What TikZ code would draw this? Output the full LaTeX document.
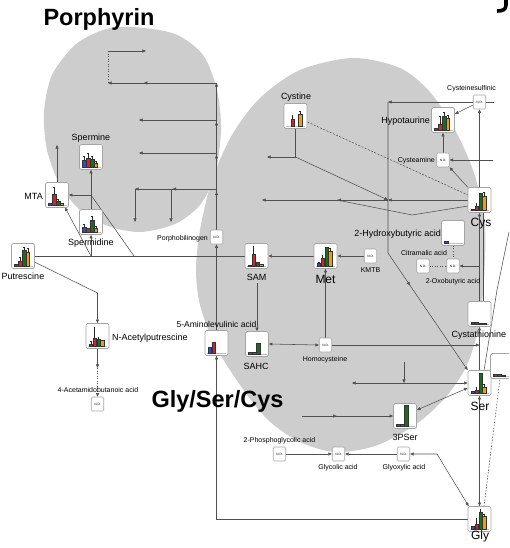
\documentclass[tikz,border=0pt]{standalone}
\usepackage{fontspec}
\setmainfont{Liberation Sans}
\usetikzlibrary{arrows.meta,decorations.markings,calc}
\pgfdeclarelayer{back}
\pgfdeclarelayer{lines}
\pgfsetlayers{back,lines,main}
\definecolor{ellgrey}{RGB}{205,205,205}
\definecolor{bblue}{RGB}{45,75,215}
\definecolor{bred}{RGB}{215,35,35}
\definecolor{bgreen}{RGB}{25,110,25}
\definecolor{borange}{RGB}{245,155,10}
\definecolor{lncol}{RGB}{80,80,80}
\definecolor{boxcol}{RGB}{165,165,165}
\newcommand\bb[4]{%
  \ifdim #3pt>0pt
    \draw[barline,fill=#2] (#1,10) rectangle ++(3.5,-#3);
  \fi
  \ifdim #4pt>0pt
    \draw[errline] ({#1+1.75},{10-#3}) -- ++(0,-#4) ++(-0.9,0) -- ++(1.8,0);
  \fi}
\newcommand\fourbars[8]{\bb{-8.6}{bblue}{#1}{#2}\bb{-4.7}{bred}{#3}{#4}\bb{-0.8}{bgreen}{#5}{#6}\bb{3.1}{borange}{#7}{#8}}
\newcommand\chartnode[4]{%
  \node[chart] (#1) at (#2,#3) {};
  \begin{scope}[shift={(#2,#3)}]
    \draw[axisline] (-9.5,10) -- (9.5,10);
    #4
  \end{scope}}
\begin{document}
\begin{tikzpicture}[x=1pt,y=-1pt,
  chart/.style={draw=boxcol, fill=white, rounded corners=1.5pt, minimum width=23pt, minimum height=25pt, inner sep=0pt, line width=0.7pt},
  nd/.style={draw=boxcol, fill=white, rounded corners=1.2pt, minimum width=12.5pt, minimum height=14pt, inner sep=0pt, line width=0.6pt, font=\fontsize{3.2}{3.5}\selectfont},
  lbl/.style={font=\fontsize{9}{10}\selectfont, inner sep=0pt, anchor=base},
  slbl/.style={font=\fontsize{7}{8}\selectfont, inner sep=0pt, anchor=base},
  blbl/.style={font=\fontsize{12}{13}\selectfont, inner sep=0pt, anchor=base},
  ttl/.style={font=\bfseries\fontsize{23.5}{25}\selectfont, inner sep=0pt, anchor=base},
  conn/.style={draw=lncol, line width=0.55pt},
  barline/.style={draw=black!80, line width=0.25pt},
  errline/.style={draw=black!85, line width=0.3pt},
  axisline/.style={draw=gray!50, line width=0.3pt},
  midarr/.style={postaction={decorate,decoration={markings,mark=at position #1 with {\arrow{Triangle[length=3.6pt,width=3pt]}}}}},
  >={Triangle[length=3.6pt,width=3pt]}]
\useasboundingbox (0,0) rectangle (509,548);
\clip (0,0) rectangle (509,548);
\begin{pgfonlayer}{back}
\fill[ellgrey] plot[smooth cycle] coordinates {(133,27) (175,34) (203,55) (217,90) (221,130) (215,175) (200,205) (175,224) (140,232) (108,226) (80,210) (60,185) (47,150) (44,112) (52,75) (75,45) (103,30)};
\fill[ellgrey] plot[smooth cycle] coordinates {(353,58) (400,68) (430,92) (455,130) (473,170) (484,215) (485,260) (480,320) (467,365) (445,398) (415,425) (375,446) (335,452) (300,442) (268,420) (240,385) (215,345) (200,305) (196,270) (200,230) (212,180) (232,135) (260,98) (300,70)};
\end{pgfonlayer}
% titles
\node[ttl] (t1) at (99,26) {Porphyrin};
\node[ttl] (t2) at (217.5,407) {Gly/Ser/Cys};
\draw[line width=3.6pt] (506,-1) -- (506,5) .. controls (506,10) and (502,11) .. (497,11);
% chart nodes
\chartnode{mta}{57}{195}{\fourbars{2}{0}{11}{7}{4}{2}{1.5}{0}}
\chartnode{spermine}{91}{157}{\fourbars{7}{4}{9}{5}{8}{3}{4}{2}}
\chartnode{spermidine}{91}{222}{\fourbars{5}{3}{4}{0}{12}{4}{4}{2}}
\chartnode{putrescine}{23}{256}{\fourbars{1.5}{0}{5}{4}{16}{3}{14}{4}}
\chartnode{sam}{256.5}{256}{\fourbars{1}{0}{12}{8}{4}{0}{1.5}{0}}
\chartnode{met}{325.5}{256}{\fourbars{3}{1}{8}{3}{19}{0}{15}{3}}
\chartnode{cystine}{295.5}{116}{\fourbars{0}{0}{7}{4}{0}{0}{12}{3}}
\chartnode{hypotaurine}{443}{120}{\fourbars{2}{0}{6}{8}{14}{4}{12}{3}}
\chartnode{cys}{479.5}{200}{\fourbars{1}{0}{4}{3}{17}{0}{14}{4}}
\chartnode{hydroxy}{453}{233}{\fourbars{2}{0}{0}{0}{0}{0}{0}{0}}
\chartnode{cystathionine}{479.5}{314}{\fourbars{1.5}{0}{1.5}{0}{1}{0}{0.6}{0}}
\chartnode{ser}{479.5}{383}{\fourbars{2}{0}{3}{3}{20}{0}{6}{3}}
\chartnode{pser}{405}{416}{\fourbars{2}{0}{2}{0}{21}{0}{0}{0}}
\chartnode{gly}{479.5}{519}{\fourbars{3}{0}{5}{6}{17}{3}{13}{2}}
\chartnode{nacetyl}{97.5}{336}{\fourbars{2}{3}{8}{11}{7}{2}{6}{0}}
\chartnode{ala}{216.5}{343}{\fourbars{6}{0}{11}{0}{0}{0}{0}{0}}
\chartnode{sahc}{257}{344}{\fourbars{2}{0}{2}{0}{11}{0}{0}{0}}
\chartnode{rbox}{502}{366}{\fourbars{1.5}{0}{1.5}{0}{1}{0}{0}{0}}
% N.D. nodes
\node[nd] (pbg) at (216.5,237) {N.D.};
\node[nd] (csa) at (479.5,102) {N.D.};
\node[nd] (cysteamine) at (443,160) {N.D.};
\node[nd] (kmtb) at (370.5,256) {N.D.};
\node[nd] (citr) at (423,266) {N.D.};
\node[nd] (oxo) at (453,266) {N.D.};
\node[nd] (hcy) at (325.5,345) {N.D.};
\node[nd] (acet) at (97.5,404) {N.D.};
\node[nd] (pgly) at (279.5,454) {N.D.};
\node[nd] (glyc) at (338.5,454) {N.D.};
\node[nd] (glyox) at (403.5,454) {N.D.};
% labels
\node[lbl,anchor=base east] (lmta) at (43,199) {MTA};
\node[lbl] (lspermine) at (91,140.5) {Spermine};
\node[lbl] (lspermidine) at (91,245) {Spermidine};
\node[lbl] (lputr) at (23,279.5) {Putrescine};
\node[lbl] (lsam) at (256.5,280) {SAM};
\node[blbl] (lmet) at (325.5,283) {Met};
\node[lbl] (lcystine) at (296,100) {Cystine};
\node[lbl,anchor=base east] (lhypo) at (430,124) {Hypotaurine};
\node[blbl] (lcys) at (481,226) {Cys};
\node[lbl,anchor=base east] (lhydroxy) at (441,236) {2-Hydroxybutyric acid};
\node[slbl] (lcitr) at (424,255.5) {Citramalic acid};
\node[slbl] (loxo) at (453,283) {2-Oxobutyric acid};
\node[slbl] (lkmtb) at (370.5,272) {KMTB};
\node[slbl,anchor=base east] (lcysteamine) at (435,163) {Cysteamine};
\node[slbl,anchor=base west] (lcsa) at (447,91) {Cysteinesulfinic};
\node[slbl,anchor=base east] (lpbg) at (208,240) {Porphobilinogen};
\node[lbl,anchor=base west] (lcysta) at (451.5,337.5) {Cystathionine};
\node[blbl] (lser) at (480,410) {Ser};
\node[lbl] (lpser) at (405,440) {3PSer};
\node[blbl] (lgly) at (480,539) {Gly};
\node[slbl] (lhcy) at (325,361) {Homocysteine};
\node[lbl] (lsahc) at (256,369) {SAHC};
\node[lbl,font=\fontsize{8.5}{9}\selectfont] (lala) at (216.5,327) {5-Aminolevulinic acid};
\node[lbl,anchor=base west] (lnacetyl) at (112,340) {N-Acetylputrescine};
\node[slbl] (lacet) at (98,392.5) {4-Acetamidobutanoic acid};
\node[slbl] (lpgly) at (279.5,442.5) {2-Phosphoglycolic acid};
\node[slbl] (lglyc) at (338,469) {Glycolic acid};
\node[slbl] (lglyox) at (404,469) {Glyoxylic acid};
% connectors
\begin{pgfonlayer}{lines}
\coordinate (pa) at (108,51); \coordinate (pb) at (146,51); \coordinate (pc) at (108,83); \coordinate (pd) at (216.5,83);
\draw[conn,->] (pa) -- (pb);
\draw[conn,dotted] (pa) -- (pc);
\draw[conn,->,midarr=0.67] (pd) -- (pc);
\draw[conn,->,midarr=0.26,midarr=0.51,midarr=0.735] (pbg.north) -- (pd);
\coordinate (pe) at (216.5,120); \coordinate (pf) at (139,120);
\draw[conn,->] (pe) -- (pf);
\coordinate (pg) at (216.5,153); \coordinate (ph) at (139,153);
\draw[conn,->] (pg) -- (ph);
\coordinate (pi) at (216.5,189); \coordinate (pj) at (135,189); \coordinate (pk) at (171,189);
\coordinate (pl) at (135,222); \coordinate (pm) at (171,222);
\draw[conn,->,midarr=0.54] (pi) -- (pj);
\draw[conn,->] (pj) -- (pl);
\draw[conn,->] (pk) -- (pm);
% spermine area
\coordinate (sj) at (91,195); \coordinate (sk) at (134,256); \coordinate (sl) at (91,256);
\draw[conn,->] (spermidine.north) -- (spermine.south);
\draw[conn,->] (sj) -- (mta.east);
\draw[conn] (sj) -- (sk);
\coordinate (mtop) at (57,145);
\draw[conn,->] (mta.north) -- (mtop);
\coordinate (mbr) at (65,207.5);
\draw[conn,->] (sl) -- (mbr);
\draw[conn,->] (sl) -- (spermidine.south);
\draw[conn] (putrescine.east) -- (sam.west);
\coordinate (pu1) at (34.5,262); \coordinate (pu2) at (97.5,293);
\draw[conn,->] (pu1) -- (pu2) -- (nacetyl.north);
\coordinate (na1) at (97.5,368);
\draw[conn,->] (nacetyl.south) -- (na1);
\draw[conn,dotted,->] (na1) -- (acet.north);
% SAM / Met
\draw[conn,->] (met.west) -- (sam.east);
\draw[conn,->] (kmtb.west) -- (met.east);
\draw[conn,->] (hcy.north) -- (met.south);
\coordinate (sam1) at (257,283);
\draw[conn,->] (sam1) -- (sahc.north);
\draw[conn,<->] (hcy.west) -- (sahc.east);
\coordinate (hc2) at (479.5,345);
\draw[conn,->] (hcy.east) -- (hc2);
\draw[conn,->] (ala.north) -- (pbg.south);
\draw[conn,->] (gly.west) -| (ala.south);
% Cys region
\coordinate (cj) at (295.5,157); \coordinate (cl) at (267,157); \coordinate (hub) at (388,200);
\coordinate (hl) at (262,200); \coordinate (va) at (337,200); \coordinate (vb) at (412,215); \coordinate (vc) at (468,206);
\draw[conn] (cystine.south) -- (cj);
\draw[conn,->] (cj) -- (cl);
\draw[conn,->] (cj) -- (hub);
\draw[conn,->] (cys.west) -- (hub);
\draw[conn,->,midarr=0.4] (hub) -- (hl);
\draw[conn] (va) -- (vb) -- (vc);
\coordinate (dc) at (468,195);
\draw[conn,dash pattern=on 2pt off 1.5pt] ($(cystine.east)+(0,6)$) -- (dc);
\draw[conn,->] (cys.north) -- (csa.south);
\draw[conn,->] ($(csa.west)+(0,3)$) -- ($(hypotaurine.east)+(0,-6)$);
\draw[conn,->] (cysteamine.north) -- (hypotaurine.south);
\draw[conn,->] (cys.north west) -- (cysteamine.south east);
\coordinate (ce) at (493,160);
\draw[conn,->] (ce) -- (cysteamine.east);
\coordinate (cr) at (494,102);
\draw[conn] (csa.east) -- (cr);
\coordinate (vt) at (388,102); \coordinate (vbend) at (388,253);
\draw[conn,->] (csa.west) -- (vt);
\draw[conn,->,midarr=0.65] (vt) -- (vbend) -- (ser.north west);
\draw[conn,->] (cystathionine.north) -- (cys.south);
\coordinate (c483a) at (483,212.5); \coordinate (c483b) at (483,301.5);
\draw[conn] (c483a) -- (c483b);
\coordinate (ox1) at (479.5,266);
\draw[conn,->] (ox1) -- (oxo.east);
\draw[conn,->] (ser.north) -- (cystathionine.south);
\draw[conn,dotted] (hydroxy.south) -- (oxo.north);
\draw[conn,dotted] (citr.east) -- (oxo.west);
\coordinate (sr1) at (484,370.5); \coordinate (sr2) at (497,290); \coordinate (sr3) at (509,232);
\draw[conn] (sr1) -- (sr2) -- (sr3);
% Ser / Gly
\draw[conn,<->] (ser.south) -- (gly.north);
\coordinate (gx) at (437,454);
\draw[conn,<->] (glyox.east) -- (gx) -- ($(gly.north west)+(1,0)$);
\draw[conn,->] (glyox.west) -- (glyc.east);
\draw[conn,->] (pgly.east) -- (glyc.west);
\draw[conn,<->] ($(pser.east)+(0,-6)$) -- ($(ser.west)+(0,5)$);
\coordinate (ps1) at (302,416);
\draw[conn,->,midarr=0.38] (ps1) -- (pser.west);
\coordinate (jx) at (404,383); \coordinate (jl) at (352,383); \coordinate (jt) at (404,362);
\draw[conn,->] (jx) -- (ser.west);
\draw[conn,->] (jx) -- (jl);
\draw[conn,->] (jt) -- (jx);
\coordinate (gd) at (484,506.5); \coordinate (gd2) at (500,378.5);
\draw[conn,dash pattern=on 1.5pt off 1.5pt] (gd) -- (gd2);
\end{pgfonlayer}
\end{tikzpicture}
\end{document}
